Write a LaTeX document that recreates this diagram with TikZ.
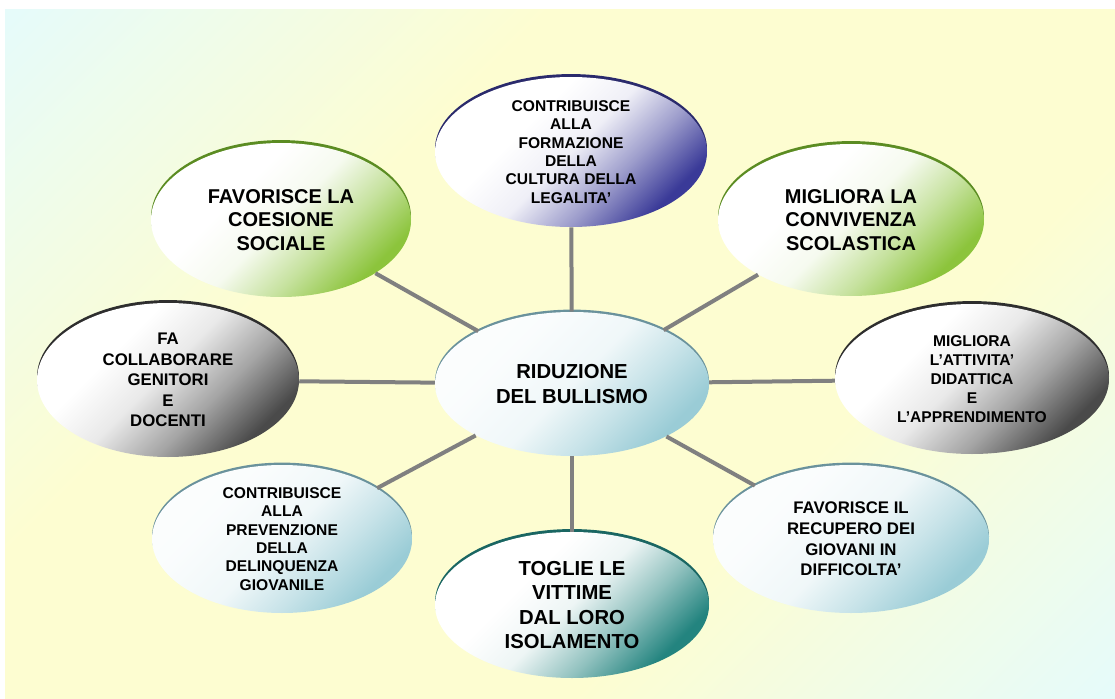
\documentclass[tikz,border=0pt]{standalone}
\usepackage{fontspec}
\setmainfont{Liberation Sans}
\usetikzlibrary{shapes.geometric}
\definecolor{bgc}{HTML}{E6FBFA}
\definecolor{bgy}{HTML}{FDFDD1}
\definecolor{linkgray}{HTML}{808080}
\definecolor{navyC}{HTML}{3A3A98}
\definecolor{navyR}{HTML}{2A2A6C}
\definecolor{greenC}{HTML}{8CC43C}
\definecolor{greenR}{HTML}{5B8C22}
\definecolor{grayC}{HTML}{4A4A4A}
\definecolor{grayR}{HTML}{2E2E2E}
\definecolor{blueC}{HTML}{9ACCD6}
\definecolor{blueR}{HTML}{6A929C}
\definecolor{tealC}{HTML}{23847F}
\definecolor{tealR}{HTML}{1A6662}
\pgfdeclareverticalshading{bgshade}{100bp}{color(0bp)=(bgc); color(15bp)=(bgc); color(36bp)=(bgy); color(64bp)=(bgy); color(85bp)=(bgc); color(100bp)=(bgc)}
\pgfdeclareverticalshading{shNavy}{100bp}{color(0bp)=(navyC); color(26bp)=(navyC); color(38bp)=(navyC!50!white); color(50bp)=(navyC!8!white); color(62bp)=(white); color(100bp)=(white)}
\pgfdeclareverticalshading{shGreen}{100bp}{color(0bp)=(greenC); color(26bp)=(greenC); color(38bp)=(greenC!50!white); color(50bp)=(greenC!8!white); color(62bp)=(white); color(100bp)=(white)}
\pgfdeclareverticalshading{shGray}{100bp}{color(0bp)=(grayC); color(26bp)=(grayC); color(39bp)=(grayC!50!white); color(52bp)=(grayC!12!white); color(64bp)=(white); color(100bp)=(white)}
\pgfdeclareverticalshading{shBlue}{100bp}{color(0bp)=(blueC); color(26bp)=(blueC); color(38bp)=(blueC!55!white); color(50bp)=(blueC!15!white); color(66bp)=(blueC!5!white); color(100bp)=(white)}
\pgfdeclareverticalshading{shTeal}{100bp}{color(0bp)=(tealC); color(26bp)=(tealC); color(38bp)=(tealC!50!white); color(50bp)=(tealC!8!white); color(62bp)=(white); color(100bp)=(white)}
\tikzset{
  bub/.style={ellipse, inner sep=0pt, align=center, shade, shading angle=45},
  navybub/.style={bub, shading=shNavy, preaction={fill=navyR, transform canvas={yshift=2.2pt}}},
  greenbub/.style={bub, shading=shGreen, preaction={fill=greenR, transform canvas={yshift=2.2pt}}},
  graybub/.style={bub, shading=shGray, preaction={fill=grayR, transform canvas={yshift=2.2pt}}},
  bluebub/.style={bub, shading=shBlue, preaction={fill=blueR, transform canvas={yshift=1.8pt}}},
  tealbub/.style={bub, shading=shTeal, preaction={fill=tealR, transform canvas={yshift=2.2pt}}},
  fbig/.style={font=\bfseries\fontsize{15}{17.5}\selectfont},
  fbigx/.style={font=\bfseries\fontsize{15.2}{18.2}\selectfont},
  fmed/.style={font=\bfseries\fontsize{12.6}{15.4}\selectfont},
  fsmall/.style={font=\bfseries\fontsize{11.7}{13.7}\selectfont},
  link/.style={draw=linkgray, line width=3pt},
}
\begin{document}
\begin{tikzpicture}[x=0.75pt,y=-0.75pt]
\fill[white] (0,0) rectangle (1115,699);
\useasboundingbox (0,0) rectangle (1115,699);
\shade[shading=bgshade, shading angle=45] (5,10) rectangle (1115,699);

\node[navybub, fsmall, minimum width=204pt, minimum height=112.5pt] (t) at (571,152)
  {CONTRIBUISCE\\ALLA\\FORMAZIONE\\DELLA\\CULTURA DELLA\\LEGALITA’};
\node[bluebub, fbigx, minimum width=205.5pt, minimum height=108pt] (c) at (572,384)
  {RIDUZIONE\\DEL BULLISMO};
\node[greenbub, fbig, minimum width=195pt, minimum height=115.5pt] (tl) at (281,220)
  {FAVORISCE LA\\COESIONE\\SOCIALE};
\node[greenbub, fbig, minimum width=199.5pt, minimum height=114pt] (tr) at (851,220)
  {MIGLIORA LA\\CONVIVENZA\\SCOLASTICA};
\node[graybub, fmed, minimum width=196.5pt, minimum height=115.5pt] (l) at (168,380)
  {FA\\COLLABORARE\\GENITORI\\E\\DOCENTI};
\node[graybub, font=\bfseries\fontsize{11.7}{14.2}\selectfont, minimum width=205.5pt, minimum height=112.5pt] (r) at (972,379)
  {MIGLIORA\\L’ATTIVITA’\\DIDATTICA\\E\\L’APPRENDIMENTO};
\node[bluebub, fsmall, minimum width=195pt, minimum height=111pt] (bl) at (282,539)
  {CONTRIBUISCE\\ALLA\\PREVENZIONE\\DELLA\\DELINQUENZA\\GIOVANILE};
\node[bluebub, fmed, minimum width=207pt, minimum height=111pt] (br) at (851,539)
  {FAVORISCE IL\\RECUPERO DEI\\GIOVANI IN\\DIFFICOLTA’};
\node[tealbub, fbigx, minimum width=205.5pt, minimum height=109.5pt] (b) at (572,605)
  {TOGLIE LE\\VITTIME\\DAL LORO\\ISOLAMENTO};

\draw[link] (c) -- (t);
\draw[link] (c) -- (b);
\draw[link] (c) -- (l);
\draw[link] (c) -- (r);
\draw[link] (c) -- (tl);
\draw[link] (c) -- (tr);
\draw[link] (c) -- (bl);
\draw[link] (c) -- (br);
\end{tikzpicture}
\end{document}
